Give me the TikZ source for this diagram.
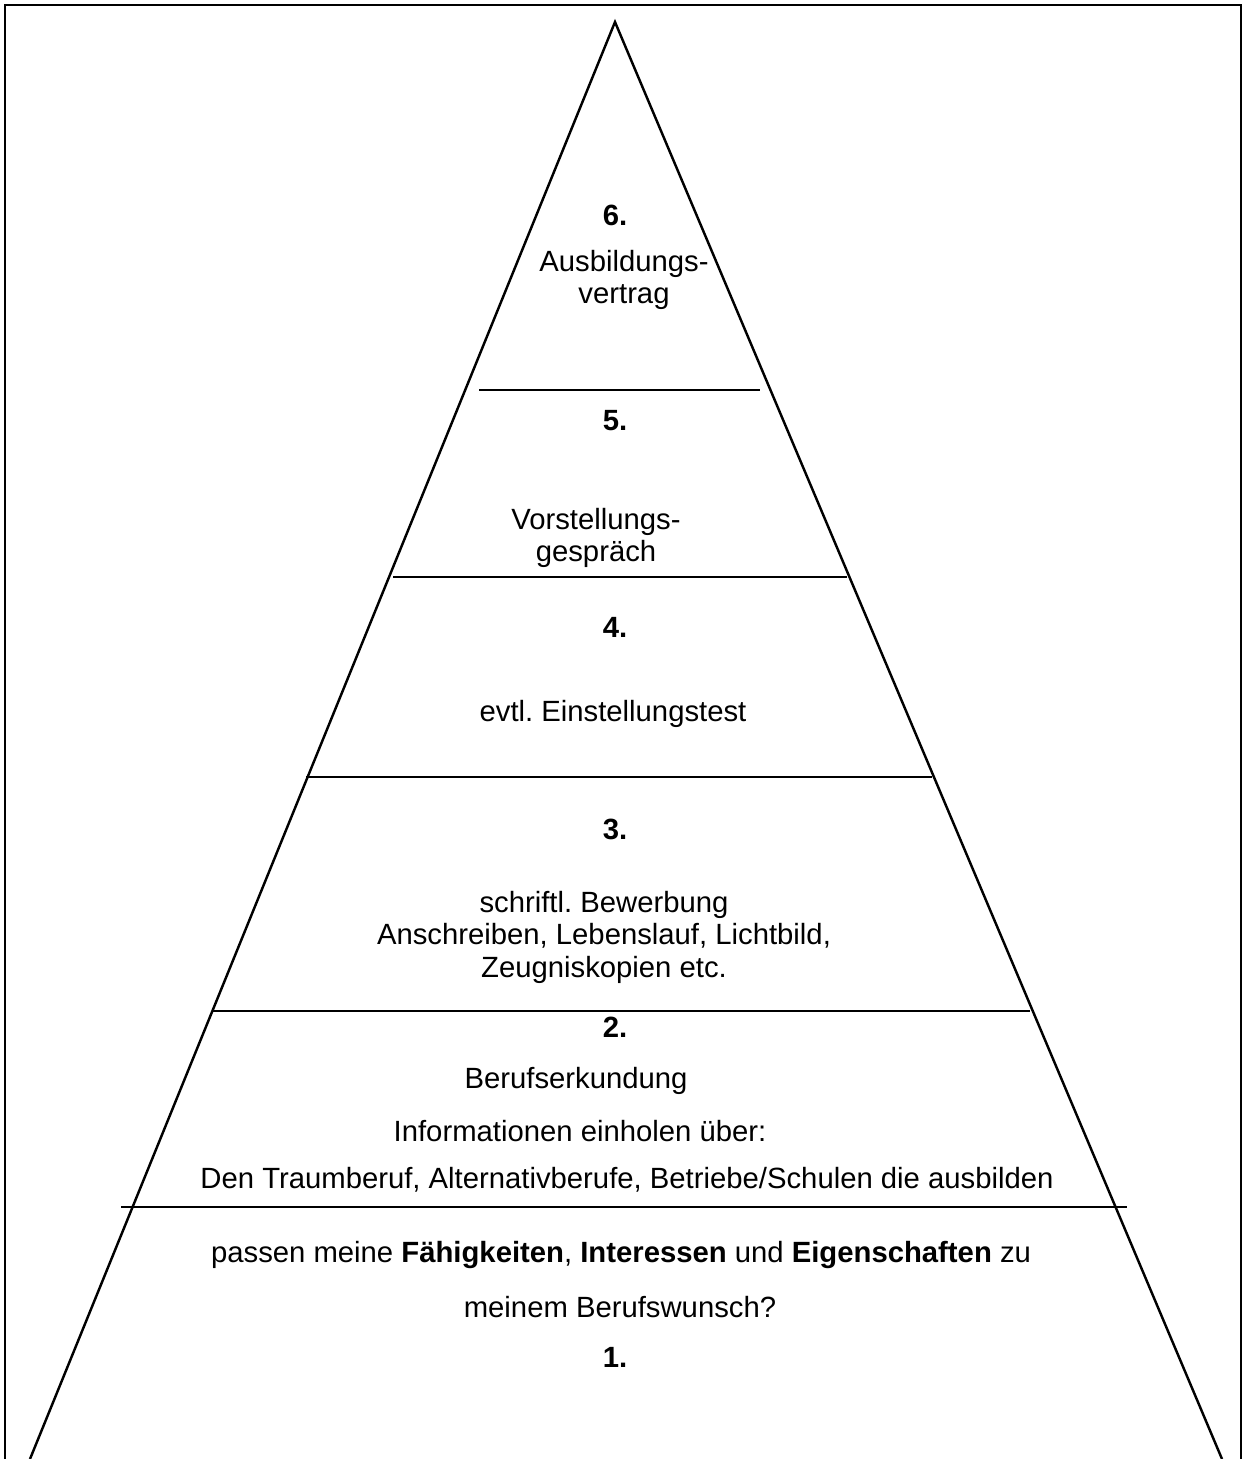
\documentclass[tikz,border=0pt]{standalone}
\usepackage{fontspec}
\setmainfont{Liberation Sans}
\usetikzlibrary{positioning}
\frenchspacing

\begin{document}
\begin{tikzpicture}[x=0.41pt,y=-0.41pt,font=\fontsize{12}{13.3}\selectfont,frameline/.style={draw=black,line width=1.2pt},pyramidline/.style={draw=black,line width=1pt},layerline/.style={draw=black,line width=1pt},stepnum/.style={inner sep=0pt,font=\fontsize{12}{13.3}\selectfont\bfseries},steptext/.style={inner sep=0pt,align=center}]
\useasboundingbox (0,0) rectangle (1247,1459);
\coordinate (apex) at (615,22);
\coordinate (baseL) at (30,1459);
\coordinate (baseR) at (1222,1459);
\draw[frameline] (5,1459) -- (5,5) -- (1241,5) -- (1241,1459);
\draw[pyramidline] (baseL) -- (apex) -- (baseR);
\draw[layerline] (479,390) -- (760,390);
\draw[layerline] (393,577) -- (847,577);
\draw[layerline] (306,777) -- (932,777);
\draw[layerline] (213,1011) -- (1030,1011);
\draw[layerline] (121,1207) -- (1127,1207);
\node[stepnum] (s6num) at (615,215) {6.};
\node[steptext] (s6text) at (624,280) {Ausbildungs-\\vertrag};
\node[stepnum] (s5num) at (615,421) {5.};
\node[steptext] (s5text) at (596,538) {Vorstellungs-\\gespräch};
\node[stepnum] (s4num) at (615,627) {4.};
\node[steptext] (s4text) at (613,714) {evtl. Einstellungstest};
\node[stepnum] (s3num) at (615,829) {3.};
\node[steptext] (s3text) at (604,937) {schriftl. Bewerbung\\Anschreiben, Lebenslauf, Lichtbild,\\Zeugniskopien etc.};
\node[stepnum] (s2num) at (615,1027) {2.};
\node[steptext] (s2a) at (576,1081) {Berufserkundung};
\node[steptext] (s2b) at (580,1131) {Informationen einholen über:};
\node[steptext] (s2c) at (627,1180) {Den Traumberuf, Alternativberufe, Betriebe/Schulen die ausbilden};
\node[steptext] (s1a) at (621,1255) {passen meine \textbf{Fähigkeiten}, \textbf{Interessen} und \textbf{Eigenschaften} zu};
\node[steptext] (s1b) at (620,1307) {meinem Berufswunsch?};
\node[stepnum] (s1num) at (615,1357) {1.};
\end{tikzpicture}
\end{document}
